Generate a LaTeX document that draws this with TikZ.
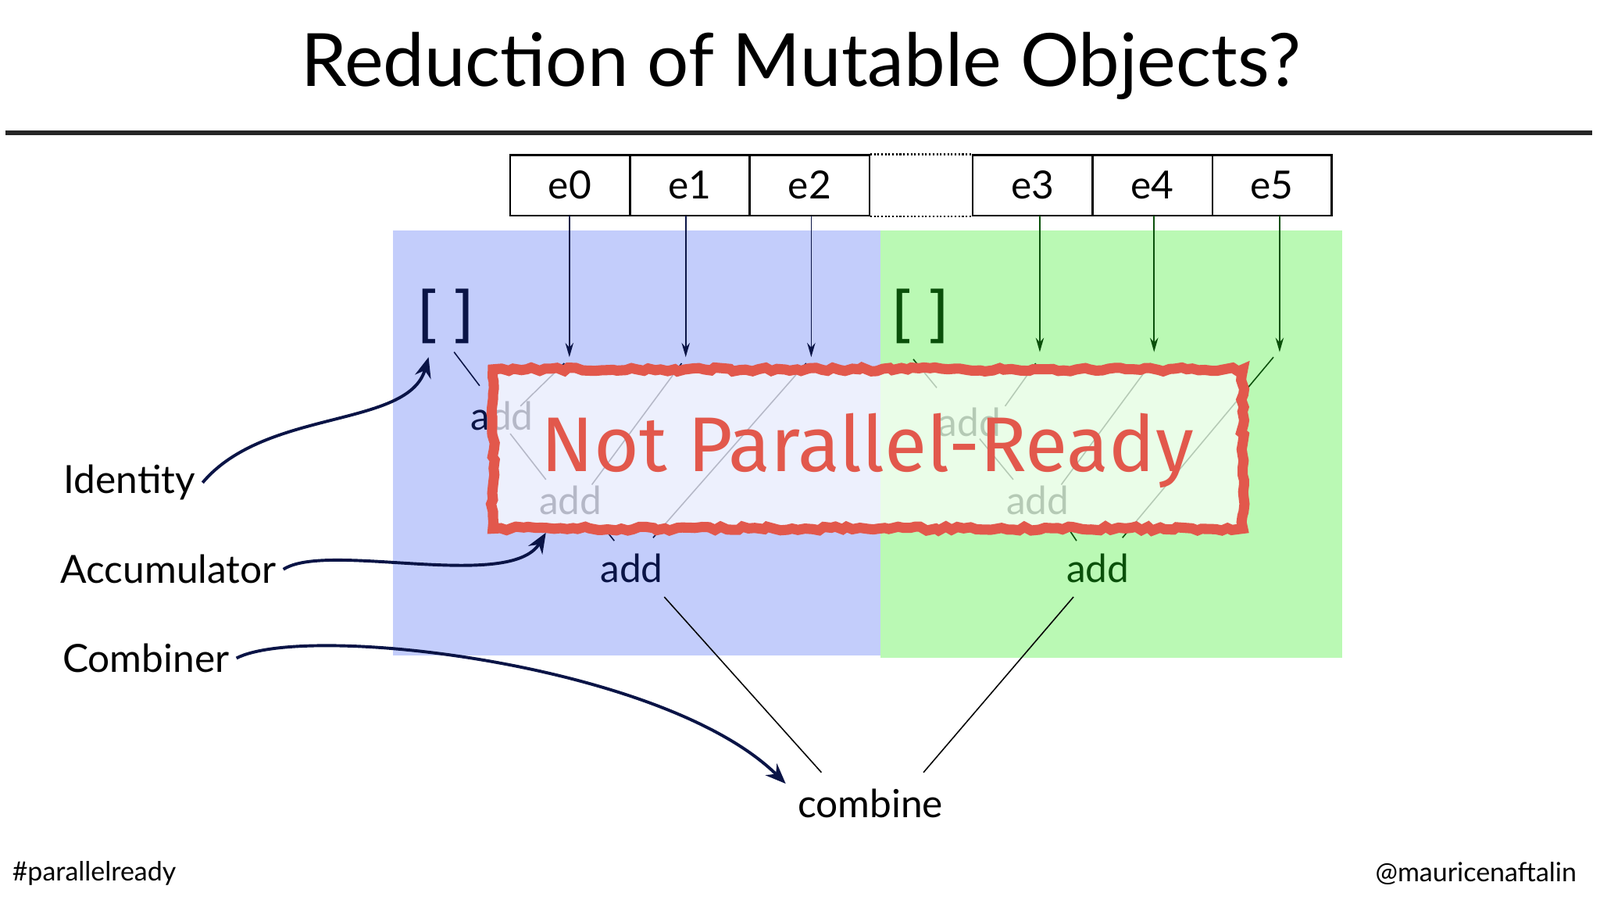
\documentclass[tikz,border=0pt]{standalone}
\usepackage{fontspec}
\setmainfont{Lato}
\newfontfamily\stampfont{Fira Sans}
\newfontfamily\monof{DejaVu Sans Mono}
\usetikzlibrary{arrows.meta,decorations.pathmorphing}
\definecolor{navy}{RGB}{10,20,70}
\definecolor{dgreen}{RGB}{10,80,10}
\definecolor{bluebg}{RGB}{195,205,251}
\definecolor{greenbg}{RGB}{186,249,180}
\definecolor{stampred}{RGB}{226,88,76}
\tikzset{
 cell/.style={draw,thick,minimum width=58.5pt,minimum height=29.5pt,inner sep=0,font=\fontsize{19}{20}\selectfont},
 lbl/.style={font=\fontsize{19}{20}\selectfont},
 side/.style={font=\fontsize{19}{20}\selectfont,anchor=center},
 feed/.style={-{Stealth[length=7pt,width=4pt]},semithick},
 big/.style={-{Stealth[length=10pt,width=8pt]},line width=1.5pt,navy},
}
\begin{document}
\begin{tikzpicture}[x=0.5pt,y=-0.5pt]
\useasboundingbox (0,0) rectangle (1568,882);
\fill[white] (0,0) rectangle (1568,882);
\node[font=\fontsize{36}{40}\selectfont] (title) at (785,65) {Reduction of Mutable Objects?};
\draw[line width=2.5pt,black!85] (5,130) -- (1560,130);
% backgrounds
\fill[bluebg] (385,226) rectangle (863,642);
\fill[greenbg] (863,226) rectangle (1315,645);
% cells
\node[cell] (e0) at (558.5,181.5) {e0};
\node[cell] (e1) at (676,181.5) {e1};
\node[cell] (e2) at (793.5,181.5) {e2};
\node[cell] (e3) at (1012,181.5) {e3};
\node[cell] (e4) at (1129.5,181.5) {e4};
\node[cell] (e5) at (1246.5,181.5) {e5};
\draw[thick,densely dotted] (e2.north east) -- (e3.north west);
\draw[thick,densely dotted] (e2.south east) -- (e3.south west);
% endpoints
\coordinate (t0) at (558,350); \coordinate (t1) at (672,350); \coordinate (t2) at (795,350);
\coordinate (t3) at (1019,345); \coordinate (t4) at (1131,345); \coordinate (t5) at (1254,345);
\draw[feed,navy] (558,211) -- (t0);
\draw[feed,navy] (672,211) -- (t1);
\draw[feed,navy] (795,211) -- (t2);
\draw[feed,dgreen] (1019,211) -- (t3);
\draw[feed,dgreen] (1131,211) -- (t4);
\draw[feed,dgreen] (1254,211) -- (t5);
% identities
\node[font=\monof\fontsize{30}{30}\selectfont,navy] (idb) at (437,310) {[]};
\node[font=\monof\fontsize{30}{30}\selectfont,dgreen] (idg) at (902,310) {[]};
% tree blue
\node[lbl,navy] (a1) at (492,408) {add};
\node[lbl,navy] (a2) at (559,490) {add};
\node[lbl,navy] (a3) at (619,557) {add};
\draw[navy,semithick] (445,345) -- (470,378);
\draw[navy,semithick] (553,356) -- (510,398);
\draw[navy,semithick] (668,356) -- (580,475);
\draw[navy,semithick] (790,356) -- (640,527);
\draw[navy,semithick] (500,425) -- (535,470);
\draw[navy,semithick] (590,515) -- (602,530);
% tree green
\node[lbl,dgreen] (g1) at (950,414) {add};
\node[lbl,dgreen] (g2) at (1017,490) {add};
\node[lbl,dgreen] (g3) at (1076,557) {add};
\draw[dgreen,semithick] (895,352) -- (918,380);
\draw[dgreen,semithick] (1015,356) -- (985,398);
\draw[dgreen,semithick] (1128,356) -- (1040,475);
\draw[dgreen,semithick] (1248,350) -- (1100,527);
\draw[dgreen,semithick] (960,430) -- (993,470);
\draw[dgreen,semithick] (1045,515) -- (1055,530);
% combine
\node[lbl] (comb) at (853,787) {combine};
\draw[semithick] (651,585) -- (805,757);
\draw[semithick] (1052,585) -- (905,757);
% side labels
\node[side] (ident) at (127,473) {Identity};
\node[side] (accum) at (165,558) {Accumulator};
\node[side] (combr) at (143,645) {Combiner};
\draw[big] (ident.east) .. controls (260,400) and (400,420) .. (420,350);
\draw[big] (accum.east) .. controls (320,530) and (500,580) .. (535,522);
\draw[big] (combr.east) .. controls (300,610) and (650,650) .. (770,768);
% stamp
\fill[white,opacity=0.7] (483,362) rectangle (1218,518);
\draw[stampred,line width=5pt,decorate,decoration={random steps,segment length=3pt,amplitude=1pt}] (483,362) rectangle (1218,518);
\node[font=\stampfont\fontsize{38}{42}\selectfont,text=stampred] (stamp) at (850,442) {Not Parallel-Ready};
% footer
\node[font=\fontsize{13}{14}\selectfont,anchor=west] (tag) at (5,856) {\#parallelready};
\node[font=\fontsize{13}{14}\selectfont,anchor=east] (who) at (1552,856) {@mauricenaftalin};
\end{tikzpicture}
\end{document}
